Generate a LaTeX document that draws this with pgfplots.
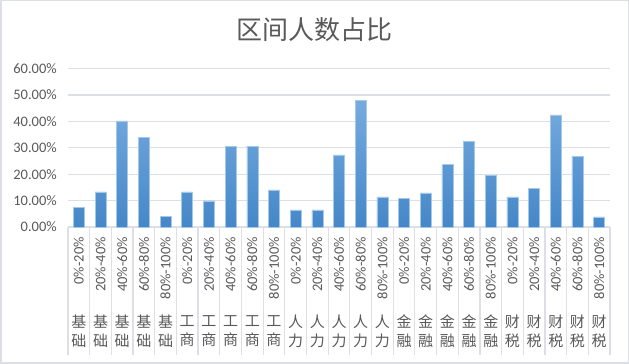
\documentclass[border=0pt]{standalone}
\usepackage{pgfplots}
\pgfplotsset{compat=1.18}
\usepackage{fontspec}
\setmainfont{Carlito}
\newfontfamily\cjk{Noto Sans CJK SC}
\definecolor{txt}{HTML}{595959}
\definecolor{gridc}{HTML}{DCDFE5}
\definecolor{bartop}{HTML}{76ABDF}
\definecolor{barmid}{HTML}{5B9BD9}
\definecolor{barbot}{HTML}{4587C8}
\definecolor{baredge}{HTML}{A3C8EA}
\begin{document}
\begin{tikzpicture}
\useasboundingbox (0,0) rectangle (629pt,364pt);
\draw[gridc, line width=1.5pt] (0.75pt,0.75pt) rectangle (628.25pt,363.25pt);
\node[text=txt, font=\cjk\fontsize{26}{30}\selectfont] at (314pt,334pt) {区间人数占比};
\begin{axis}[
  at={(68pt,137pt)}, anchor=south west,
  scale only axis, width=542pt, height=158.3pt,
  xmin=-0.5, xmax=24.5, ymin=0, ymax=60,
  axis line style={draw=none},
  ytick={0,10,...,60},
  ymajorgrids, grid style={gridc, line width=1.2pt},
  major tick length=0pt,
  yticklabel={\pgfmathprintnumber[fixed,fixed zerofill,precision=2,assume math mode=true]{\tick}\%},
  yticklabel style={text=txt, font=\fontsize{14.5}{17}\selectfont, inner sep=0pt, anchor=east},
  yticklabel shift=11pt,
  xtick={0,...,24},
  xticklabels={{基\\础},{基\\础},{基\\础},{基\\础},{基\\础},
               {工\\商},{工\\商},{工\\商},{工\\商},{工\\商},
               {人\\力},{人\\力},{人\\力},{人\\力},{人\\力},
               {金\\融},{金\\融},{金\\融},{金\\融},{金\\融},
               {财\\税},{财\\税},{财\\税},{财\\税},{财\\税}},
  xticklabel style={text=txt, font=\cjk\fontsize{15}{19}\selectfont, align=center, anchor=north, inner sep=0pt},
  xticklabel shift=88pt,
  extra x ticks={0,...,24},
  extra x tick labels={{0\%-20\%},{20\%-40\%},{40\%-60\%},{60\%-80\%},{80\%-100\%},
                       {0\%-20\%},{20\%-40\%},{40\%-60\%},{60\%-80\%},{80\%-100\%},
                       {0\%-20\%},{20\%-40\%},{40\%-60\%},{60\%-80\%},{80\%-100\%},
                       {0\%-20\%},{20\%-40\%},{40\%-60\%},{60\%-80\%},{80\%-100\%},
                       {0\%-20\%},{20\%-40\%},{40\%-60\%},{60\%-80\%},{80\%-100\%}},
  extra x tick style={xticklabel shift=10pt, xticklabel style={rotate=90, anchor=east, font=\fontsize{14.5}{17}\selectfont}},
  clip=false,
]
\addplot[ybar, bar width=11pt, bar shift=0pt, draw=baredge, line width=0.5pt,
  top color=bartop, middle color=barmid, bottom color=barbot] coordinates {
  (0,7.4) (1,13.3) (2,40.2) (3,33.9) (4,4.0)
  (5,13.3) (6,9.9) (7,30.7) (8,30.7) (9,14.1)
  (10,6.5) (11,6.5) (12,27.3) (13,48.1) (14,11.4)
  (15,10.8) (16,12.9) (17,23.6) (18,32.5) (19,19.5)
  (20,11.4) (21,14.6) (22,42.5) (23,26.9) (24,3.8)
};
\pgfplotsinvokeforeach{-0.5,0.5,...,24.5}{
  \draw[gridc, line width=1.2pt] (axis cs:#1,0) -- ++(0pt,-128pt);
}
\end{axis}
\end{tikzpicture}
\end{document}
